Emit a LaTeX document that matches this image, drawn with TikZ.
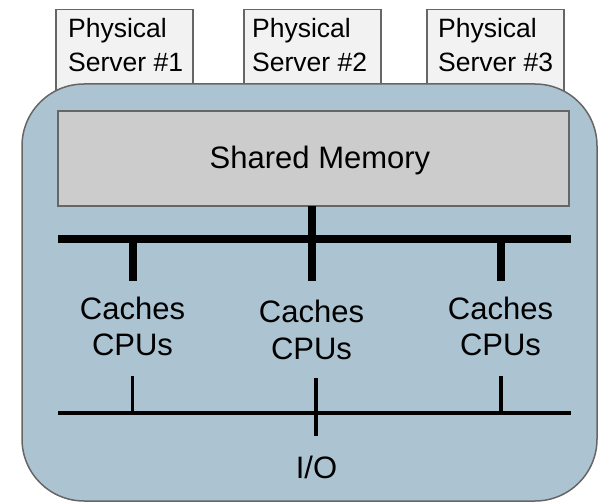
\documentclass[tikz,border=0pt]{standalone}
\usepackage{fontspec}
\setmainfont{Liberation Sans}
\definecolor{bluefill}{HTML}{ACC3D2}
\definecolor{serverfill}{HTML}{F2F2F2}
\definecolor{memfill}{HTML}{CCCCCC}
\definecolor{edgegray}{HTML}{666666}
\begin{document}
\begin{tikzpicture}[x=1pt,y=-1pt,
  serverbox/.style={draw=edgegray, line width=1.5pt, fill=serverfill, inner sep=0pt, anchor=north west, minimum width=137pt, minimum height=111pt},
  stext/.style={anchor=base west, inner sep=0pt, font=\fontsize{26.5}{30}\selectfont},
  hostbox/.style={draw=edgegray, line width=1.5pt, fill=bluefill, rounded corners=62pt},
  membox/.style={draw=edgegray, line width=1.5pt, fill=memfill, inner sep=0pt, anchor=north west, minimum width=511pt, minimum height=95pt},
  bigtext/.style={anchor=base, inner sep=0pt, font=\fontsize{31}{34}\selectfont},
  thickbus/.style={line width=8pt},
  thinbus/.style={line width=3.5pt}]
\useasboundingbox (0,0) rectangle (600,503);
% physical servers
\node[serverbox] (s1) at (55,9) {};
\node[serverbox] (s2) at (243,9) {};
\node[serverbox] (s3) at (426,9) {};
\node[stext] (s1a) at (68,38) {Physical};
\node[stext] (s1b) at (68,71) {Server \#1};
\node[stext] (s2a) at (252,38) {Physical};
\node[stext] (s2b) at (252,71) {Server \#2};
\node[stext] (s3a) at (438,38) {Physical};
\node[stext] (s3b) at (438,71) {Server \#3};
% host
\draw[hostbox] (22,84) rectangle (597,501);
\node[membox] (mem) at (57,110) {};
\node[bigtext] (memt) at (320,168) {Shared Memory};
% thick bus
\coordinate (bl) at (58,239);
\coordinate (br) at (571,239);
\coordinate (m0) at (312,205.5);
\coordinate (d1) at (132.5,281);
\coordinate (d2) at (312,281);
\coordinate (d3) at (501,281);
\draw[thickbus] (bl) -- (br);
\draw[thickbus] (m0) -- (d2);
\draw[thickbus] (d1 |- bl) -- (d1);
\draw[thickbus] (d3 |- bl) -- (d3);
% caches / cpus
\node[bigtext] (c1) at (132.5,319) {Caches};
\node[bigtext] (p1) at (132.5,355) {CPUs};
\node[bigtext] (c2) at (311.5,322) {Caches};
\node[bigtext] (p2) at (311.5,359) {CPUs};
\node[bigtext] (c3) at (500.5,319) {Caches};
\node[bigtext] (p3) at (500.5,355) {CPUs};
% thin bus
\coordinate (tl) at (58,413);
\coordinate (tr) at (571,413);
\coordinate (u1) at (132.5,376);
\coordinate (u2) at (316,378);
\coordinate (u3) at (501,376);
\coordinate (io0) at (316,436);
\draw[thinbus] (tl) -- (tr);
\draw[thinbus] (u1) -- (u1 |- tl);
\draw[thinbus] (u2) -- (io0);
\draw[thinbus] (u3) -- (u3 |- tl);
\node[bigtext] (io) at (316.5,478) {I/O};
\end{tikzpicture}
\end{document}
